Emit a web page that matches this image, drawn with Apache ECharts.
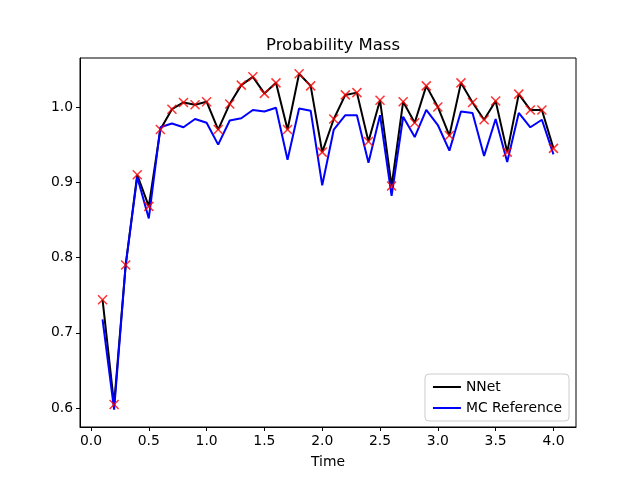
<!DOCTYPE html>
<html>
<head>
<meta charset="utf-8">
<style>
    html, body { margin: 0; padding: 0; background: #fff; }
    #chart { width: 640px; height: 480px; }
</style>
<script src="https://cdn.jsdelivr.net/npm/echarts@6/dist/echarts.min.js"></script>
</head>
<body>
<div id="chart"></div>
<script>
    // time points (x axis)
    var times = [0.1, 0.2, 0.3, 0.4, 0.5, 0.6, 0.7, 0.8, 0.9, 1.0,
                 1.1, 1.2, 1.3, 1.4, 1.5, 1.6, 1.7, 1.8, 1.9, 2.0,
                 2.1, 2.2, 2.3, 2.4, 2.5, 2.6, 2.7, 2.8, 2.9, 3.0,
                 3.1, 3.2, 3.3, 3.4, 3.5, 3.6, 3.7, 3.8, 3.9, 4.0];
    // NNet probability mass (black line + red x markers)
    var nnet = [0.744, 0.605, 0.790, 0.910, 0.868, 0.970, 0.997, 1.006, 1.003, 1.007,
                0.970, 1.004, 1.029, 1.040, 1.018, 1.032, 0.970, 1.044, 1.028, 0.940,
                0.984, 1.016, 1.019, 0.954, 1.009, 0.895, 1.007, 0.979, 1.028, 1.000,
                0.962, 1.032, 1.006, 0.983, 1.008, 0.940, 1.017, 0.996, 0.996, 0.945];
    // MC reference (blue line)
    var mcRef = [0.718, 0.598, 0.790, 0.907, 0.852, 0.973, 0.978, 0.973, 0.984, 0.979,
                 0.950, 0.982, 0.985, 0.996, 0.994, 0.999, 0.930, 0.998, 0.995, 0.896,
                 0.970, 0.989, 0.989, 0.926, 0.989, 0.882, 0.987, 0.960, 0.996, 0.976,
                 0.942, 0.994, 0.992, 0.935, 0.984, 0.927, 0.992, 0.973, 0.983, 0.937];
    // tick labels
    var xTicks = [0.0, 0.5, 1.0, 1.5, 2.0, 2.5, 3.0, 3.5, 4.0];
    var yTicks = [0.6, 0.7, 0.8, 0.9, 1.0];

    function pairs(ys) {
        return times.map(function (t, i) { return [t, ys[i]]; });
    }

    var font = 'DejaVu Sans';
    var chart = echarts.init(document.getElementById('chart'));
    var option = {
        animation: false,
        backgroundColor: '#fff',
        title: {
            text: 'Probability Mass',
            left: 328,
            textAlign: 'center',
            top: 32,
            textStyle: { fontFamily: font, fontSize: 16.5, fontWeight: 'normal', color: '#000' }
        },
        grid: {
            left: 80, right: 64, top: 58, bottom: 53,
            show: true, borderColor: '#000', borderWidth: 1, backgroundColor: 'transparent'
        },
        legend: {
            right: 71,
            top: 374,
            orient: 'vertical',
            align: 'left',
            icon: 'rect',
            padding: [6, 7, 6, 8],
            itemGap: 7,
            itemWidth: 28,
            itemHeight: 2,
            backgroundColor: 'rgba(255,255,255,0.8)',
            borderColor: '#cccccc',
            borderWidth: 1,
            borderRadius: 4,
            textStyle: { fontFamily: font, fontSize: 13.9, color: '#000', lineHeight: 13 },
            data: ['NNet', 'MC Reference']
        },
        xAxis: {
            type: 'value',
            min: -0.095,
            max: 4.195,
            name: 'Time',
            nameLocation: 'middle',
            nameGap: 28,
            nameTextStyle: { fontFamily: font, fontSize: 13.9, color: '#000' },
            axisLine: { show: true, onZero: false, lineStyle: { color: '#000', width: 1 } },
            axisTick: { show: true, inside: false, length: 4, customValues: xTicks, lineStyle: { color: '#000' } },
            axisLabel: {
                customValues: xTicks,
                margin: 7,
                fontFamily: font, fontSize: 13.9, color: '#000',
                formatter: function (v) { return v.toFixed(1); }
            },
            splitLine: { show: false }
        },
        yAxis: {
            type: 'value',
            min: 0.575,
            max: 1.065,
            axisLine: { show: true, onZero: false, lineStyle: { color: '#000', width: 1 } },
            axisTick: { show: true, inside: false, length: 4, customValues: yTicks, lineStyle: { color: '#000' } },
            axisLabel: {
                customValues: yTicks,
                margin: 7,
                fontFamily: font, fontSize: 13.9, color: '#000',
                formatter: function (v) { return v.toFixed(1); }
            },
            splitLine: { show: false }
        },
        series: [
            {
                name: 'NNet',
                type: 'line',
                data: pairs(nnet),
                symbol: 'none',
                color: '#000',
                lineStyle: { color: '#000', width: 2 },
                z: 2
            },
            {
                name: 'MC Reference',
                type: 'line',
                data: pairs(mcRef),
                symbol: 'none',
                color: '#0000ff',
                lineStyle: { color: '#0000ff', width: 2 },
                z: 3
            },
            {
                name: 'samples',
                type: 'scatter',
                data: pairs(nnet),
                symbol: 'path://M0,0L10,10M10,0L0,10',
                symbolSize: 9,
                itemStyle: { color: 'none', borderColor: '#ff0000', borderWidth: 1.5 },
                z: 4
            }
        ]
    };
    chart.setOption(option);
</script>
</body>
</html>
